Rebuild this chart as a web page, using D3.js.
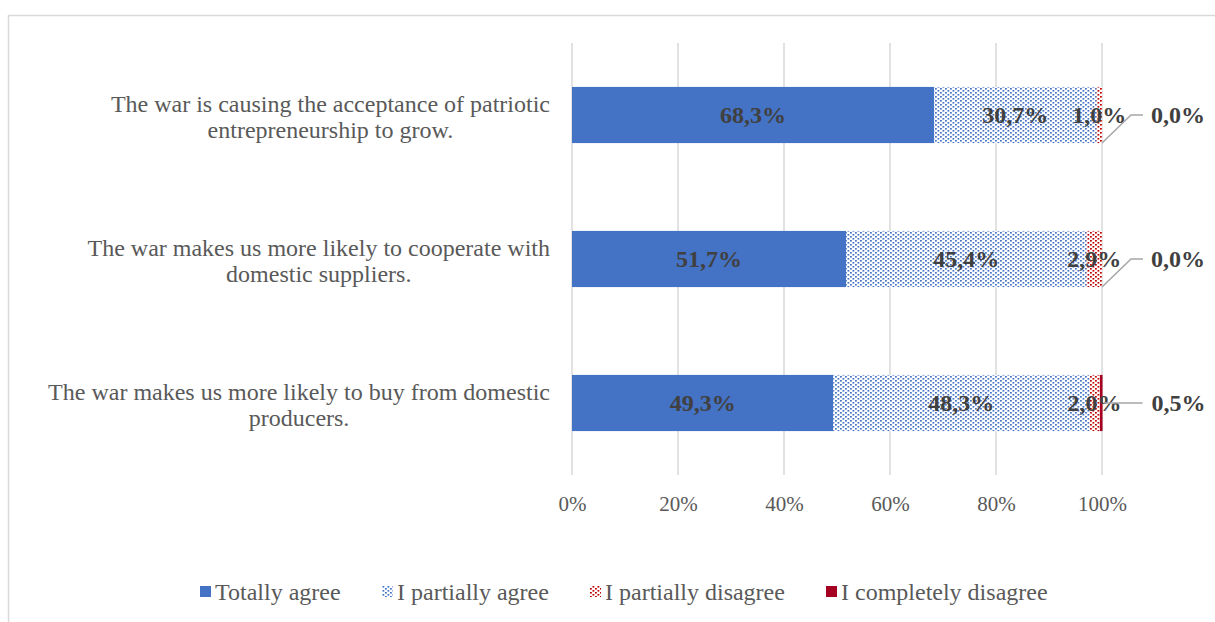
<!DOCTYPE html>
<html>
<head>
<meta charset="utf-8">
<script src="https://cdn.jsdelivr.net/npm/d3@7"></script>
<style>
  body { margin: 0; background: #fff; }
  svg { display: block; }
</style>
</head>
<body>
<div id="chart"></div>
<script>
// data
const categories = [
  ["The war is causing the acceptance of patriotic", "entrepreneurship to grow."],
  ["The war makes us more likely to cooperate with", "domestic suppliers."],
  ["The war makes us more likely to buy from domestic", "producers."]
]
const seriesNames = ["Totally agree", "I partially agree", "I partially disagree", "I completely disagree"]
const totallyAgree = [68.3, 51.7, 49.3]
const partiallyAgree = [30.7, 45.4, 48.3]
const partiallyDisagree = [1.0, 2.9, 2.0]
const completelyDisagree = [0.0, 0.0, 0.5]
const xTicks = [0, 20, 40, 60, 80, 100]

const width = 1215
const height = 622
const font = '"Liberation Serif", "Times New Roman", serif'

const svg = d3.select('#chart')
  .append('svg')
  .attr('width', width)
  .attr('height', height)

const defs = svg.append('defs')

function dotPattern(id, color){
  const p = defs.append('pattern')
    .attr('id', id)
    .attr('patternUnits', 'userSpaceOnUse')
    .attr('width', 5)
    .attr('height', 4)
  p.append('rect').attr('width', 5).attr('height', 4).attr('fill', '#fff')
  p.append('rect').attr('x', 0).attr('y', 0).attr('width', 1.8).attr('height', 1.6).attr('fill', color)
  p.append('rect').attr('x', 2.5).attr('y', 2).attr('width', 1.8).attr('height', 1.6).attr('fill', color)
}
dotPattern('dotBlue', '#4472c4')
dotPattern('dotRed', '#c00000')

const fills = ['#4472c4', 'url(#dotBlue)', 'url(#dotRed)', '#a50021']

// chart border
svg.append('rect')
  .attr('x', 8.5).attr('y', 15.5)
  .attr('width', 1400).attr('height', 800)
  .attr('fill', 'none')
  .attr('stroke', '#d9d9d9')
  .attr('stroke-width', 1.5)

const xScale = d3.scaleLinear()
  .domain([0, 100])
  .range([572, 1102])

const yScale = d3.scaleBand()
  .domain(d3.range(categories.length))
  .range([43, 475])
  .paddingInner(0.61)
  .paddingOuter(0.305)

// gridlines
svg.append('g')
  .selectAll('line')
  .data(xTicks)
  .join('line')
  .attr('x1', d => xScale(d)).attr('x2', d => xScale(d))
  .attr('y1', 43).attr('y2', 475)
  .attr('stroke', '#d9d9d9')
  .attr('stroke-width', 1.5)

// x axis labels
const xAxis = g => g
  .attr('transform', 'translate(0,475)')
  .call(d3.axisBottom(xScale).tickValues(xTicks).tickFormat(d => d + '%').tickSize(0).tickPadding(21))
  .call(g => g.select('.domain').remove())
  .call(g => g.selectAll('text')
    .attr('font-family', font)
    .attr('font-size', 21)
    .attr('fill', '#595959'))

svg.append('g').call(xAxis)

// stacked data
const rows = categories.map((c, i) => ({
  i: i,
  values: [totallyAgree[i], partiallyAgree[i], partiallyDisagree[i], completelyDisagree[i]]
}))
const stack = d3.stack().keys([0, 1, 2, 3]).value((d, k) => d.values[k])
const layers = stack(rows)

layers.forEach(function(layer, k){
  svg.append('g')
    .selectAll('rect')
    .data(layer)
    .join('rect')
    .attr('x', d => xScale(d[0]))
    .attr('y', d => yScale(d.data.i))
    .attr('width', d => xScale(d[1]) - xScale(d[0]))
    .attr('height', yScale.bandwidth())
    .attr('fill', fills[k])
})

// data labels inside bars
const fmt = v => v.toFixed(1).replace('.', ',') + '%'
layers.slice(0, 3).forEach(function(layer){
  svg.append('g')
    .selectAll('text')
    .data(layer)
    .join('text')
    .attr('x', d => (xScale(d[0]) + xScale(d[1])) / 2)
    .attr('y', d => yScale(d.data.i) + yScale.bandwidth() / 2)
    .attr('dy', '0.35em')
    .attr('text-anchor', 'middle')
    .attr('font-family', font)
    .attr('font-size', 24)
    .attr('font-weight', 'bold')
    .attr('fill', '#404040')
    .text(d => fmt(d[1] - d[0]))
})

// outside labels for completely disagree with leader lines
layers[3].forEach(function(d){
  const end = xScale(d[1])
  const cy = yScale(d.data.i) + yScale.bandwidth() / 2
  const small = (d[1] - d[0]) < 0.3
  const pts = small
    ? [[end, yScale(d.data.i) + yScale.bandwidth()], [end + 29, cy], [end + 41, cy]]
    : [[end + 1, cy], [end + 40, cy]]
  svg.append('path')
    .attr('d', d3.line()(pts))
    .attr('fill', 'none')
    .attr('stroke', '#a6a6a6')
    .attr('stroke-width', 1.5)
  svg.append('text')
    .attr('x', end + 49)
    .attr('y', cy)
    .attr('dy', '0.35em')
    .attr('font-family', font)
    .attr('font-size', 24)
    .attr('font-weight', 'bold')
    .attr('fill', '#404040')
    .text(fmt(d[1] - d[0]))
})

// category labels (block right aligned, lines centered)
categories.forEach(function(lines, i){
  const g = svg.append('g')
  const cy = yScale(i) + yScale.bandwidth() / 2 + 2
  const texts = lines.map((line, j) => g.append('text')
    .attr('y', cy + (j - (lines.length - 1) / 2) * 26)
    .attr('dy', '0.35em')
    .attr('text-anchor', 'middle')
    .attr('font-family', font)
    .attr('font-size', 24)
    .attr('fill', '#595959')
    .text(line))
  const maxW = d3.max(texts, t => t.node().getComputedTextLength())
  texts.forEach(t => t.attr('x', 550 - maxW / 2))
})

// legend
const legendX = [200, 382, 590, 826]
const legend = svg.append('g')
seriesNames.forEach(function(name, k){
  legend.append('rect')
    .attr('x', legendX[k])
    .attr('y', 586)
    .attr('width', 11)
    .attr('height', 11)
    .attr('fill', fills[k])
  legend.append('text')
    .attr('x', legendX[k] + 15)
    .attr('y', 592)
    .attr('dy', '0.35em')
    .attr('font-family', font)
    .attr('font-size', 24)
    .attr('fill', '#595959')
    .text(name)
})
</script>
</body>
</html>
